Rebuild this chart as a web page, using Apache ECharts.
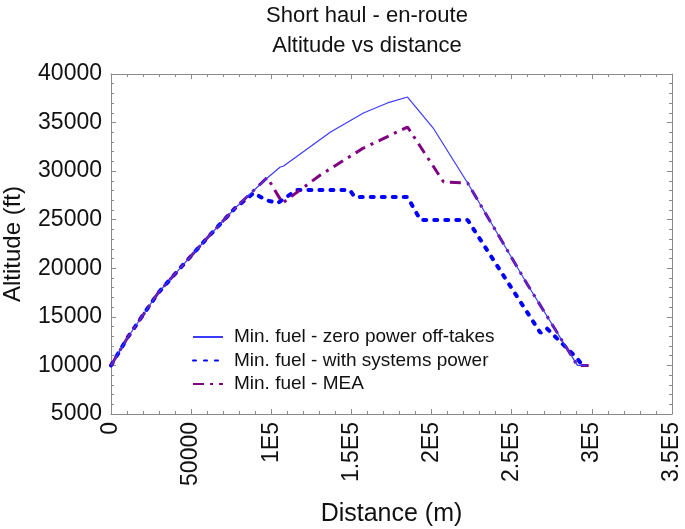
<!DOCTYPE html>
<html>
<head>
<meta charset="utf-8">
<script src="https://cdn.jsdelivr.net/npm/echarts@6/dist/echarts.min.js"></script>
<style>
  html, body { margin: 0; padding: 0; background: #fff; }
  #chart { width: 685px; height: 529px; }
</style>
</head>
<body>
<div id="chart"></div>
<script>
// 距离 (m) / 高度 (ft)
var distZero = [0, 10600, 29400, 46000, 60600, 77500, 96000, 105600, 107500, 137000, 157500, 172500, 185000, 201000, 222500, 260000, 291000, 297000];
var altZero  = [10000, 12930, 17460, 20540, 23220, 26210, 29090, 30430, 30500, 34030, 35990, 37020, 37630, 34440, 28780, 18280, 10000, 10000];

var distSys = [0, 10600, 29400, 46000, 60600, 77500, 89000, 97000, 104000, 110000, 116000, 149000, 152000, 185000, 193000, 222500, 268000, 272000, 291000, 294000];
var altSys  = [10000, 12930, 17460, 20540, 23220, 26210, 27750, 27000, 26720, 27400, 28060, 28060, 27340, 27340, 24970, 24970, 13340, 13800, 10700, 10000];

var distMea = [0, 10600, 29400, 46000, 60600, 77500, 97500, 107000, 130600, 157500, 185000, 207500, 222500, 260000, 291000, 298000];
var altMea  = [10000, 12930, 17460, 20540, 23220, 26210, 29350, 26720, 29600, 32380, 34540, 28880, 28780, 18280, 10000, 10000];

var seriesNames = ['Min. fuel - zero power off-takes', 'Min. fuel - with systems power', 'Min. fuel - MEA'];
var xTickLabels = ['0', '50000', '1E5', '1.5E5', '2E5', '2.5E5', '3E5', '3.5E5'];

function pairs(xs, ys) {
  var out = [];
  for (var i = 0; i < xs.length; i++) out.push([xs[i], ys[i]]);
  return out;
}

var font = 'Liberation Sans, Arial, sans-serif';
var frame = '#8a8a8a';

var chart = echarts.init(document.getElementById('chart'));

var option = {
  animation: false,
  title: {
    text: 'Short haul - en-route\nAltitude vs distance',
    left: 362,
    top: -4,
    textAlign: 'center',
    textStyle: { fontFamily: font, fontSize: 22, fontWeight: 'normal', color: '#111', lineHeight: 30 }
  },
  grid: { left: 111, right: 13, top: 74, bottom: 115, outerBoundsMode: 'none' },
  legend: {
    orient: 'vertical',
    left: 187,
    top: 322,
    itemWidth: 30,
    itemHeight: 14,
    itemGap: 3.5,
    itemStyle: { opacity: 0 },
    textStyle: { fontFamily: font, fontSize: 19, color: '#111', lineHeight: 20, padding: [0, 0, 0, 6] },
    data: seriesNames
  },
  xAxis: [
    {
      type: 'value', min: 0, max: 350000, interval: 50000,
      name: 'Distance (m)', nameLocation: 'middle', nameGap: 88,
      nameTextStyle: { fontFamily: font, fontSize: 25, color: '#111' },
      axisLine: { onZero: false, lineStyle: { color: frame } },
      axisTick: { inside: true, length: 5, lineStyle: { color: frame } },
      minorTick: { show: true, splitNumber: 5, length: 3, lineStyle: { color: frame } },
      splitLine: { show: false },
      axisLabel: {
        rotate: 90, fontFamily: font, fontSize: 23, color: '#111', margin: 8,
        formatter: function (v) { return xTickLabels[Math.round(v / 50000)]; }
      }
    },
    {
      type: 'value', min: 0, max: 350000, interval: 50000, position: 'top',
      axisLine: { onZero: false, lineStyle: { color: frame } },
      axisTick: { inside: true, length: 5, lineStyle: { color: frame } },
      minorTick: { show: true, splitNumber: 5, length: 3, lineStyle: { color: frame } },
      splitLine: { show: false },
      axisLabel: { show: false }
    }
  ],
  yAxis: [
    {
      type: 'value', min: 5000, max: 40000, interval: 5000,
      name: 'Altitude (ft)', nameLocation: 'middle', nameGap: 86,
      nameTextStyle: { fontFamily: font, fontSize: 24, color: '#111' },
      axisLine: { show: true, onZero: false, lineStyle: { color: frame } },
      axisTick: { show: true, inside: true, length: 5, lineStyle: { color: frame } },
      minorTick: { show: true, splitNumber: 5, length: 3, lineStyle: { color: frame } },
      splitLine: { show: false },
      axisLabel: {
        fontFamily: font, fontSize: 23, color: '#111', margin: 9,
        formatter: function (v) { return String(v); }
      }
    },
    {
      type: 'value', min: 5000, max: 40000, interval: 5000, position: 'right',
      axisLine: { show: true, onZero: false, lineStyle: { color: frame } },
      axisTick: { show: true, inside: true, length: 5, lineStyle: { color: frame } },
      minorTick: { show: true, splitNumber: 5, length: 3, lineStyle: { color: frame } },
      splitLine: { show: false },
      axisLabel: { show: false }
    }
  ],
  series: [
    {
      name: seriesNames[0], type: 'line', symbol: 'none',
      color: '#3b3bff',
      lineStyle: { width: 1.2, color: '#3b3bff' },
      data: pairs(distZero, altZero), z: 3
    },
    {
      name: seriesNames[1], type: 'line', symbol: 'none',
      color: '#0000ff',
      lineStyle: { width: 4, color: '#0000ff', type: [3, 8], cap: 'round' },
      data: pairs(distSys, altSys), z: 2
    },
    {
      name: seriesNames[2], type: 'line', symbol: 'none',
      color: '#800080',
      lineStyle: { width: 3, color: '#800080', type: [11, 6, 3, 6] },
      data: pairs(distMea, altMea), z: 2
    }
  ]
};

chart.setOption(option);
</script>
</body>
</html>
